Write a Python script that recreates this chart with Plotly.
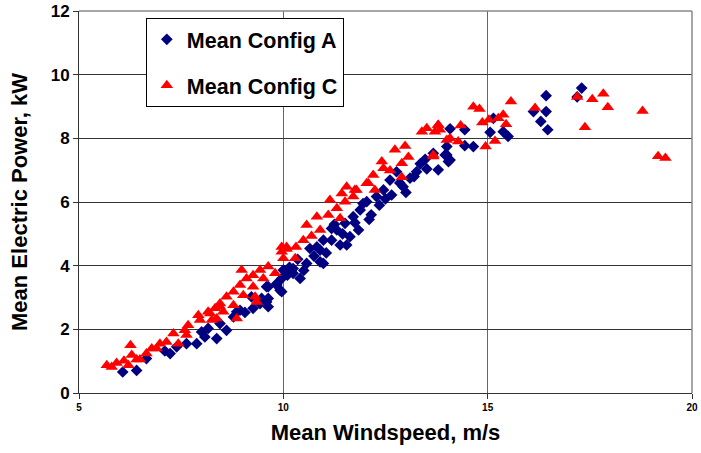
import plotly.graph_objects as go

# Mean Config A (blue diamonds)
a_x = [6.07, 6.41, 6.65, 7.10, 7.23, 7.39, 7.63, 7.88, 8.00, 8.08, 8.16, 8.37, 8.45, 8.61, 8.78,
       8.86, 8.94, 9.06, 9.22, 9.26, 9.43, 9.47, 9.59, 9.59, 9.63, 9.63, 9.63, 9.84, 9.84, 9.92,
       9.96, 9.96, 10.00, 10.04, 10.24, 10.24, 10.41, 10.57, 10.65, 10.82, 10.90, 10.90, 10.98, 10.98,
       11.18, 11.18, 11.31, 11.39, 11.51, 11.55, 11.63, 11.71, 11.84, 11.88, 12.04, 12.28, 12.45, 12.61,
       12.65, 12.77, 12.93, 13.10, 13.26, 13.47, 13.51, 13.67, 13.79, 13.96, 14.00, 14.00, 14.04, 14.08,
       14.08, 14.44, 14.44, 14.65, 15.06, 15.14, 15.38, 15.50, 16.12, 16.30, 16.43, 16.43, 16.47,
       17.19, 17.30, 10.10, 10.35, 10.75, 11.05, 11.45, 12.15, 12.35, 12.85, 13.20,
       10.15, 10.50, 11.25, 11.75, 12.50, 13.00, 13.35, 12.10, 11.95]
a_y = [0.66, 0.71, 1.08, 1.32, 1.24, 1.45, 1.55, 1.55, 1.92, 1.76, 2.03, 1.71, 2.18, 1.97, 2.39,
       2.55, 2.60, 2.53, 3.02, 2.66, 2.81, 2.97, 2.86, 3.34, 2.97, 3.34, 2.71, 3.44, 3.39, 3.23,
       3.60, 3.18, 3.86, 3.81, 3.91, 3.76, 3.60, 4.07, 4.54, 4.59, 4.12, 4.49, 4.07, 4.80,
       4.80, 5.17, 5.12, 4.65, 5.33, 4.65, 4.91, 5.54, 5.12, 5.75, 6.01, 6.17, 6.38, 6.69,
       6.22, 6.95, 6.48, 6.75, 6.95, 7.34, 7.04, 7.53, 7.01, 7.48, 7.74, 7.48, 7.27, 8.30,
       7.32, 8.27, 7.77, 7.74, 8.19, 8.63, 8.21, 8.06, 8.84, 8.53, 9.34, 8.84, 8.27,
       9.30, 9.58, 3.70, 4.20, 4.30, 4.40, 5.00, 5.60, 5.90, 6.60, 6.80,
       3.95, 3.85, 5.30, 5.35, 6.10, 6.30, 7.20, 5.45, 5.95]

# Mean Config C (red triangles)
c_x = [5.68, 5.80, 5.92, 6.10, 6.21, 6.26, 6.29, 6.41, 6.49, 6.65, 6.78, 6.90, 6.98, 7.14, 7.31,
       7.43, 7.59, 7.63, 7.67, 7.92, 7.96, 8.16, 8.21, 8.25, 8.33, 8.37, 8.45, 8.45, 8.53, 8.61,
       8.78, 8.78, 8.86, 8.94, 8.98, 9.02, 9.10, 9.26, 9.26, 9.31, 9.35, 9.43, 9.51, 9.63, 9.80,
       9.96, 9.96, 10.00, 10.08, 10.08, 10.29, 10.31, 10.49, 10.57, 10.69, 10.82, 10.90, 11.10, 11.14,
       11.31, 11.39, 11.43, 11.51, 11.55, 11.71, 11.75, 11.79, 12.04, 12.08, 12.20, 12.24, 12.41, 12.45,
       12.61, 12.73, 12.90, 12.90, 12.98, 13.06, 13.39, 13.51, 13.67, 13.67, 13.71, 13.79, 13.79, 13.83,
       14.00, 14.08, 14.28, 14.34, 14.65, 14.80, 14.87, 14.95, 15.03, 15.18, 15.26, 15.38, 15.45, 15.57,
       16.16, 17.19, 17.38, 17.56, 17.83, 17.94, 18.79, 19.17, 19.35]
c_y = [0.87, 0.82, 0.94, 1.01, 0.87, 1.50, 1.19, 1.05, 1.05, 1.24, 1.40, 1.40, 1.55, 1.60, 1.87,
       1.55, 1.97, 1.82, 2.13, 2.44, 2.29, 2.55, 2.50, 2.29, 2.66, 2.34, 2.81, 2.71, 2.55, 3.02,
       3.18, 2.76, 2.34, 3.39, 3.86, 3.07, 3.60, 3.70, 3.34, 3.02, 2.86, 3.86, 3.60, 3.97, 3.76,
       4.44, 4.59, 4.23, 4.52, 4.59, 4.23, 4.59, 4.80, 5.28, 4.93, 5.54, 5.12, 5.59, 6.06,
       5.80, 5.49, 6.27, 6.01, 6.48, 6.17, 6.38, 6.38, 6.59, 6.59, 6.85, 6.38, 7.27, 7.06,
       6.99, 7.64, 7.22, 6.78, 7.76, 7.41, 8.21, 8.32, 7.43, 7.48, 8.21, 8.42, 8.42, 8.27,
       7.95, 8.00, 7.90, 8.40, 8.99, 8.92, 8.50, 7.74, 8.58, 7.92, 8.63, 8.74, 8.44, 9.16,
       8.95, 9.30, 8.35, 9.23, 9.40, 8.98, 8.86, 7.44, 7.38]

x_ticks = [5, 10, 15, 20]
y_ticks = [0, 2, 4, 6, 8, 10, 12]

font = "Liberation Sans, Arial, sans-serif"

fig = go.Figure()
fig.add_trace(go.Scatter(
    x=a_x, y=a_y, mode="markers", name="<b>Mean Config A</b>", legendgroup="a",
    marker=dict(symbol="diamond", size=9, color="#000080", line=dict(width=0)),
))
fig.add_trace(go.Scatter(
    x=c_x, y=c_y, mode="markers", name="<b>Mean Config C</b>", legendgroup="c",
    marker=dict(symbol="triangle-up", size=11, color="#FF0000", line=dict(width=0)),
))

fig.update_layout(
    width=701, height=453,
    margin=dict(l=79, r=9, t=11, b=60),
    paper_bgcolor="white", plot_bgcolor="white",
    font=dict(family=font, color="black"),
    showlegend=True,
    legend=dict(
        x=0.109, y=0.982, xanchor="left", yanchor="top",
        bgcolor="white", bordercolor="black", borderwidth=1,
        font=dict(family=font, size=21.5, color="black"),
        traceorder="grouped", tracegroupgap=15,
        itemwidth=30,
    ),
    xaxis=dict(
        range=[5, 20], tickvals=x_ticks, ticktext=[f"<b>{v}</b>" for v in x_ticks],
        showgrid=True, gridcolor="#666666", gridwidth=1,
        showline=True, linecolor="#333333", linewidth=1, mirror=False,
        ticks="outside", ticklen=5, tickcolor="#333333",
        tickfont=dict(family=font, size=10, color="black"),
        title=dict(text="<b>Mean Windspeed, m/s</b>", font=dict(family=font, size=22), standoff=12),
        zeroline=False, automargin=False,
    ),
    yaxis=dict(
        range=[0, 12], tickvals=y_ticks, ticktext=[f"<b>{v}</b>" for v in y_ticks],
        showgrid=True, gridcolor="#333333", gridwidth=1,
        showline=True, linecolor="#333333", linewidth=1,
        ticks="outside", ticklen=5, tickcolor="#333333",
        tickfont=dict(family=font, size=17, color="black"),
        title=dict(text="<b>Mean Electric Power, kW</b>", font=dict(family=font, size=22), standoff=16),
        zeroline=False, automargin=False,
    ),
    shapes=[
        dict(type="line", xref="paper", yref="paper", x0=0, x1=1, y0=1, y1=1,
             line=dict(color="#888888", width=1.5)),
        dict(type="line", xref="paper", yref="paper", x0=1, x1=1, y0=0, y1=1,
             line=dict(color="#888888", width=1.5)),
    ],
)

fig.write_html(
    "out.html",
    config={"displayModeBar": False},
    post_script="document.body.style.margin='0';document.body.style.overflow='hidden';",
)
